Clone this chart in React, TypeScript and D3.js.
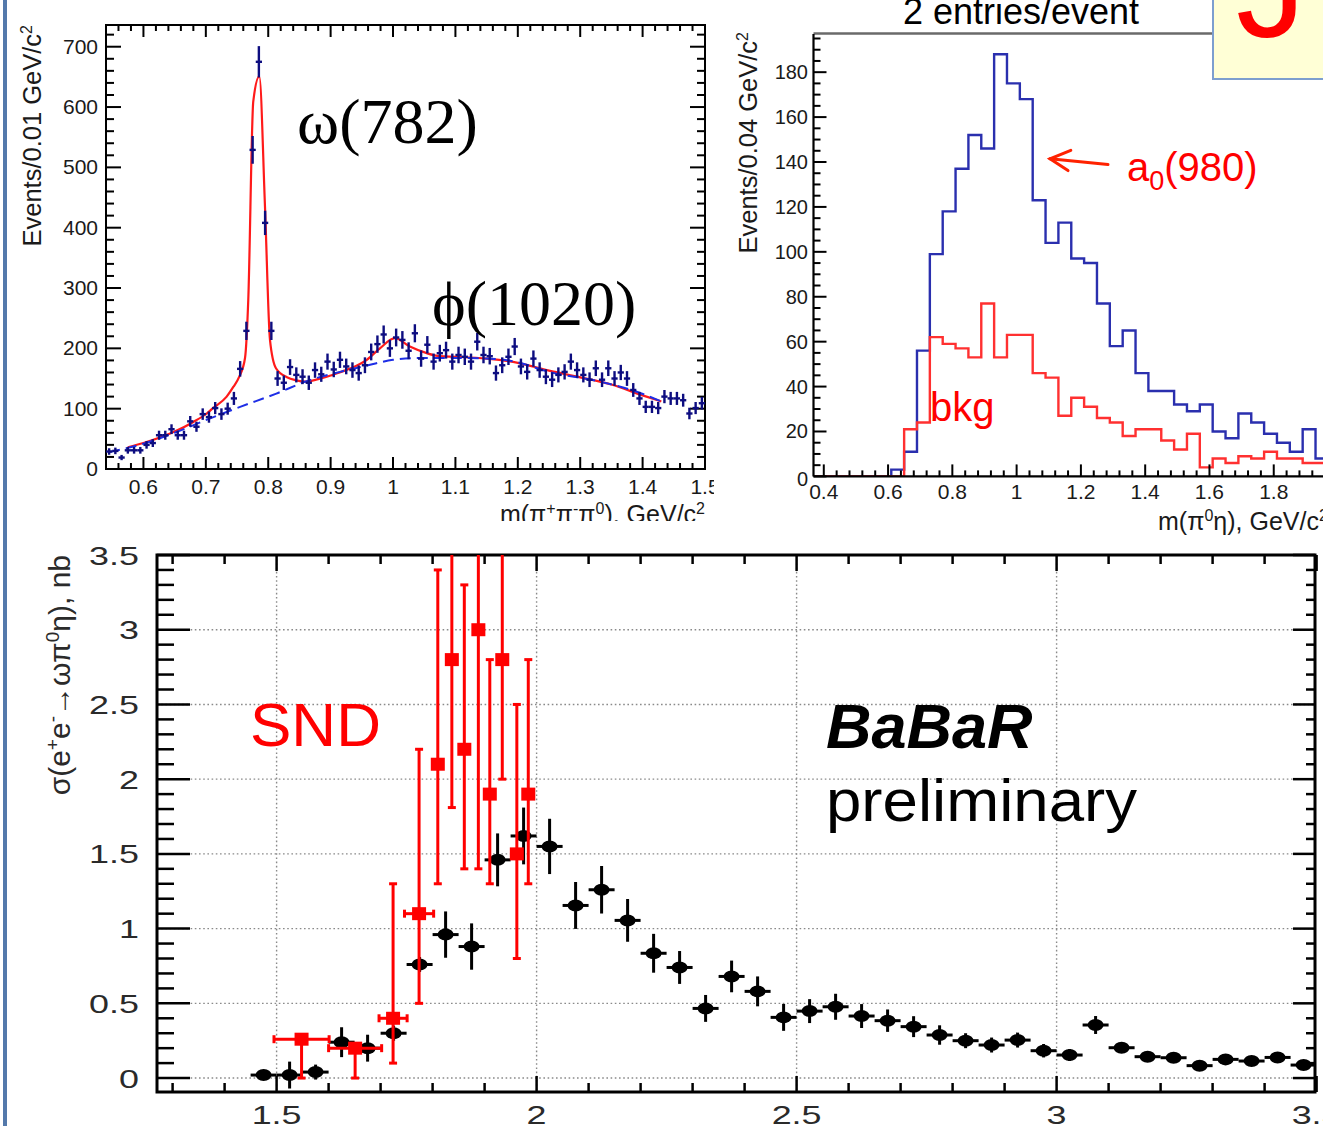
import React from "react";
import * as d3 from "d3";

const SANS = "'Liberation Sans', Arial, Helvetica, sans-serif";
const SERIF = "'Liberation Serif', 'Times New Roman', serif";

// ---------------- Panel A : m(pi+ pi- pi0) ----------------
const m3piFirstBin = 0.545;
const m3piBinWidth = 0.01;
const m3piCounts = [
  29, 30, 19, 31, 31, 31, 40, 43, 56, 56,
  66, 56, 56, 79, 70, 91, 86, 101, 91, 100,
  117, 166, 229, 529, 675, 408, 229, 150, 143, 169,
  156, 153, 143, 164, 157, 178, 165, 181, 170, 164,
  159, 172, 194, 207, 223, 200, 218, 214, 196, 225,
  183, 206, 178, 192, 197, 178, 189, 186, 178, 211,
  189, 187, 159, 172, 186, 203, 170, 161, 183, 164,
  153, 148, 156, 161, 178, 164, 156, 148, 167, 148,
  167, 150, 160, 150, 131, 117, 103, 103, 101, 120,
  117, 117, 114, 92, 101, 109,
];
const fitTotalX = [0.575, 0.6, 0.65, 0.68, 0.7014, 0.7115, 0.7334, 0.744, 0.7536, 0.7628, 0.768, 0.776, 0.7857, 0.7948, 0.8028, 0.8124, 0.83, 0.845, 0.86, 0.88, 0.9, 0.93, 0.958, 0.979, 1.003, 1.027, 1.054, 1.075, 1.1, 1.15, 1.2, 1.25, 1.3, 1.35, 1.4, 1.43];
const fitTotalY = [36, 43, 62, 78, 92, 101, 120, 136, 153, 184, 280, 609, 651, 435, 214, 167, 152, 147, 145, 149, 155, 166, 181, 200, 217, 203, 192, 187, 186, 183, 176, 163, 152, 140, 122, 112];
const fitBkgX = [0.545, 0.6, 0.65, 0.707, 0.755, 0.813, 0.86, 0.915, 0.96, 1.0, 1.043, 1.1, 1.17, 1.195, 1.25, 1.331, 1.385, 1.43];
const fitBkgY = [28, 42, 60, 84, 103, 125, 145, 161, 172, 181, 184, 184, 182, 178, 161, 145, 130, 112];
const m3piTicks = [0.6, 0.7, 0.8, 0.9, 1, 1.1, 1.2, 1.3, 1.4, 1.5];
const m3piTickLabels = ["0.6", "0.7", "0.8", "0.9", "1", "1.1", "1.2", "1.3", "1.4", "1.5"];
const eventsATicks = [0, 100, 200, 300, 400, 500, 600, 700];

// ---------------- Panel B : m(pi0 eta) ----------------
const pi0etaFirstEdge = 0.37;
const pi0etaBinWidth = 0.04;
const pi0etaSignal = [0, 0, 0, 0, 0, 0, 3, 11, 56, 99, 118, 137, 152, 146, 188, 175, 168, 123, 104, 113, 97, 95, 77, 58, 65, 46, 38, 38, 32, 29, 32, 20, 17, 28, 24, 19, 15, 11, 21, 8, 8];
const pi0etaBkg = [0, 0, 0, 0, 0, 0, 0, 21, 24, 62, 59, 57, 53, 77, 53, 63, 63, 46, 44, 27, 35, 31, 26, 24, 18, 21, 21, 16, 12, 19, 4, 8, 6, 9, 8, 11, 8, 8, 6, 6, 6];
const pi0etaTicks = [0.4, 0.6, 0.8, 1, 1.2, 1.4, 1.6, 1.8];
const pi0etaTickLabels = ["0.4", "0.6", "0.8", "1", "1.2", "1.4", "1.6", "1.8"];
const eventsBTicks = [0, 20, 40, 60, 80, 100, 120, 140, 160, 180];

// ---------------- Panel C : cross section ----------------
const babarE = [1.475, 1.525, 1.575, 1.625, 1.675, 1.725, 1.775, 1.825, 1.875, 1.925, 1.975, 2.025, 2.075, 2.125, 2.175, 2.225, 2.275, 2.325, 2.375, 2.425, 2.475, 2.525, 2.575, 2.625, 2.675, 2.725, 2.775, 2.825, 2.875, 2.925, 2.975, 3.025, 3.075, 3.125, 3.175, 3.225, 3.275, 3.325, 3.375, 3.425, 3.475];
const babarSigma = [0.02, 0.02, 0.04, 0.24, 0.2, 0.3, 0.76, 0.96, 0.88, 1.46, 1.62, 1.55, 1.155, 1.26, 1.055, 0.835, 0.74, 0.466, 0.68, 0.58, 0.406, 0.448, 0.477, 0.415, 0.384, 0.344, 0.288, 0.25, 0.221, 0.254, 0.183, 0.154, 0.355, 0.203, 0.143, 0.136, 0.083, 0.125, 0.114, 0.138, 0.087];
const babarErr = [0.03, 0.09, 0.05, 0.1, 0.09, 0.05, 0.05, 0.155, 0.155, 0.177, 0.19, 0.185, 0.157, 0.159, 0.143, 0.13, 0.11, 0.09, 0.106, 0.1, 0.09, 0.08, 0.087, 0.08, 0.075, 0.07, 0.065, 0.05, 0.05, 0.05, 0.045, 0.04, 0.06, 0.035, 0.03, 0.03, 0.03, 0.03, 0.03, 0.03, 0.03];
const babarHalfWidth = 0.025;

const sndE = [1.548, 1.651, 1.724, 1.774, 1.81, 1.837, 1.861, 1.888, 1.91, 1.934, 1.962, 1.984];
const sndSigma = [0.26, 0.2, 0.4, 1.1, 2.1, 2.8, 2.2, 3.0, 1.9, 2.8, 1.5, 1.9];
const sndErrLow = [0.26, 0.2, 0.3, 0.6, 0.8, 0.99, 0.8, 1.6, 0.6, 0.8, 0.7, 0.6];
const sndErrHigh = [0, 0, 0.9, 1.1, 1.3, 1.5, 1.1, 1.5, 0.9, 1.5, 1.0, 0.9];
const sndHalfWidth = [0.053, 0.051, 0.027, 0.028, 0, 0, 0, 0, 0, 0, 0, 0];

const sigmaTicks = [0, 0.5, 1, 1.5, 2, 2.5, 3, 3.5];
const sigmaTickLabels = ["0", "0.5", "1", "1.5", "2", "2.5", "3", "3.5"];
const energyTicks = [1.5, 2, 2.5, 3, 3.5];
const energyTickLabels = ["1.5", "2", "2.5", "3", "3.5"];

function rng(a: number, b: number, s: number) {
  const out: number[] = [];
  const n = Math.round((b - a) / s);
  for (let i = 0; i <= n; i++) out.push(+(a + i * s).toFixed(6));
  return out;
}

export default function App() {
  // ---------- Panel A scales ----------
  const xA = d3.scaleLinear().domain([0.54, 1.5]).range([106, 705]);
  const yA = d3.scaleLinear().domain([0, 736]).range([469, 25]);
  const ptsA = m3piCounts.map((c, i) => ({ x: m3piFirstBin + i * m3piBinWidth, y: c, e: Math.sqrt(c) }));
  const lineTot = d3.line<[number, number]>().x(d => xA(d[0])).y(d => yA(d[1])).curve(d3.curveMonotoneX);
  const lineBkg = d3.line<[number, number]>().x(d => xA(d[0])).y(d => yA(d[1])).curve(d3.curveMonotoneX);
  const totPath = lineTot(fitTotalX.map((x, i) => [x, fitTotalY[i]] as [number, number])) || "";
  const bkgPath = lineBkg(fitBkgX.map((x, i) => [x, fitBkgY[i]] as [number, number])) || "";
  const minorXA = rng(0.54, 1.5, 0.02);
  const minorYA = rng(0, 720, 20);

  // ---------- Panel B scales ----------
  const xB = d3.scaleLinear().domain([0.368, 2.04]).range([813.5, 813.5 + (2.04 - 0.368) * 321.4]);
  const yB = d3.scaleLinear().domain([0, 197]).range([476.4, 34]);
  const stepLine = d3.line<[number, number]>().x(d => xB(d[0])).y(d => yB(d[1])).curve(d3.curveStepAfter);
  const histPts = (arr: number[]) => {
    const p: [number, number][] = arr.map((v, i) => [pi0etaFirstEdge + i * pi0etaBinWidth, v]);
    p.push([pi0etaFirstEdge + arr.length * pi0etaBinWidth, arr[arr.length - 1]]);
    return p;
  };
  const sigPath = stepLine(histPts(pi0etaSignal)) || "";
  const bkgHPath = stepLine(histPts(pi0etaBkg)) || "";
  const minorXB = rng(0.4, 2.0, 0.04);
  const minorYB = rng(0, 195, 5);

  // ---------- Panel C scales ----------
  const xC = d3.scaleLinear().domain([1.27, 3.5]).range([157, 1316.6]);
  const yC = d3.scaleLinear().domain([-0.1, 3.5]).range([1093, 555]);
  const minorXC = rng(1.3, 3.5, 0.1);
  const minorYC = rng(0, 3.5, 0.1);

  const tickColA = "#1a1a1a";

  return (
    <svg width={1323} height={1126} viewBox="0 0 1323 1126" style={{ position: "absolute", left: 0, top: 0, background: "#fff" }}>
      <defs>
        <clipPath id="clipA"><rect x={0} y={0} width={714} height={521} /></clipPath>
        <clipPath id="clipAplot"><rect x={106} y={25} width={599} height={444} /></clipPath>
        <clipPath id="clipBplot"><rect x={813.5} y={34} width={520} height={442.4} /></clipPath>
        <clipPath id="clipBox"><rect x={1213} y={0} width={110} height={79} /></clipPath>
        <clipPath id="clipC"><rect x={157} y={555} width={1158} height={537} /></clipPath>
      </defs>
      <rect x={0} y={0} width={1323} height={1126} fill="#ffffff" />

      {/* ================= Panel A ================= */}
      <g clipPath="url(#clipA)">
        <rect x={106} y={25} width={599} height={444} fill="none" stroke="#000" strokeWidth={2} />
        {minorXA.map((t, i) => {
          const major = m3piTicks.some(m => Math.abs(m - t) < 1e-6);
          const L = major ? 12 : 6;
          return (
            <g key={"axa" + i} stroke="#000" strokeWidth={2}>
              <line x1={xA(t)} x2={xA(t)} y1={469} y2={469 - L} />
              <line x1={xA(t)} x2={xA(t)} y1={25} y2={25 + L} />
            </g>
          );
        })}
        {minorYA.map((t, i) => {
          const major = t % 100 === 0;
          const L = major ? 15 : 8;
          return (
            <g key={"aya" + i} stroke="#000" strokeWidth={2}>
              <line x1={106} x2={106 + L} y1={yA(t)} y2={yA(t)} />
              <line x1={705} x2={705 - L} y1={yA(t)} y2={yA(t)} />
            </g>
          );
        })}
        {m3piTicks.map((t, i) => (
          <text key={"axl" + i} x={xA(t)} y={494} textAnchor="middle" fontFamily={SANS} fontSize={21} fill={tickColA}>{m3piTickLabels[i]}</text>
        ))}
        {eventsATicks.map((t, i) => (
          <text key={"ayl" + i} x={98} y={yA(t) + 7} textAnchor="end" fontFamily={SANS} fontSize={21} fill={tickColA}>{String(t)}</text>
        ))}
        <text transform="translate(41,25) rotate(-90)" textAnchor="end" fontFamily={SANS} fontSize={25.5} fill={tickColA}>
          Events/0.01 GeV/c<tspan dy={-9} fontSize={16}>2</tspan>
        </text>
        <text x={705} y={523} textAnchor="end" fontFamily={SANS} fontSize={25} fill={tickColA}>
          m(π<tspan dy={-9} fontSize={16}>+</tspan><tspan dy={9}>π</tspan><tspan dy={-9} fontSize={16}>-</tspan><tspan dy={9}>π</tspan><tspan dy={-9} fontSize={16}>0</tspan><tspan dy={9}>), GeV/c</tspan><tspan dy={-9} fontSize={16}>2</tspan>
        </text>
        <g clipPath="url(#clipAplot)">
          <path d={totPath} fill="none" stroke="#ff1a1a" strokeWidth={2.2} />
          <path d={bkgPath} fill="none" stroke="#1e2ee6" strokeWidth={2} strokeDasharray="11,6" />
          {ptsA.map((p, i) => (
            <g key={"pa" + i} stroke="#0d0d80" strokeWidth={2.4}>
              <line x1={xA(p.x)} x2={xA(p.x)} y1={yA(p.y - p.e)} y2={yA(p.y + p.e)} />
              <line x1={xA(p.x - m3piBinWidth / 2)} x2={xA(p.x + m3piBinWidth / 2)} y1={yA(p.y)} y2={yA(p.y)} />
            </g>
          ))}
        </g>
        <text x={297} y={143} fontFamily={SERIF} fontSize={64} fill="#000">ω(782)</text>
        <text x={432} y={325} fontFamily={SERIF} fontSize={64} fill="#000">ϕ(1020)</text>
      </g>

      {/* ================= Panel B ================= */}
      <g>
        <text x={1021} y={24} textAnchor="middle" fontFamily={SANS} fontSize={36} fill="#000">2 entries/event</text>
        <line x1={813.5} x2={1213} y1={33.5} y2={33.5} stroke="#6a6a6a" strokeWidth={2.5} />
        <g clipPath="url(#clipBplot)">
          <path d={sigPath} fill="none" stroke="#2a2fae" strokeWidth={2.4} />
          <path d={bkgHPath} fill="none" stroke="#ff3030" strokeWidth={2.4} />
        </g>
        <line x1={813.5} x2={813.5} y1={34} y2={476.4} stroke="#000" strokeWidth={2.2} />
        <line x1={813.5} x2={1323} y1={476.4} y2={476.4} stroke="#000" strokeWidth={2.2} />
        {minorXB.map((t, i) => {
          const major = pi0etaTicks.some(m => Math.abs(m - t) < 1e-6);
          const L = major ? 12 : 6;
          return <line key={"bx" + i} x1={xB(t)} x2={xB(t)} y1={476.4} y2={476.4 - L} stroke="#000" strokeWidth={2} />;
        })}
        {minorYB.map((t, i) => {
          const L = t % 20 === 0 ? 13 : 7;
          return <line key={"by" + i} x1={813.5} x2={813.5 + L} y1={yB(t)} y2={yB(t)} stroke="#000" strokeWidth={2} />;
        })}
        {pi0etaTicks.map((t, i) => (
          <text key={"bxl" + i} x={xB(t)} y={499} textAnchor="middle" fontFamily={SANS} fontSize={21} fill={tickColA}>{pi0etaTickLabels[i]}</text>
        ))}
        {eventsBTicks.map((t, i) => (
          <text key={"byl" + i} x={808} y={yB(t) + 7 + (t === 0 ? 3 : 0)} textAnchor="end" fontFamily={SANS} fontSize={20} fill={tickColA}>{String(t)}</text>
        ))}
        <text transform="translate(757,32) rotate(-90)" textAnchor="end" fontFamily={SANS} fontSize={25.5} fill={tickColA}>
          Events/0.04 GeV/c<tspan dy={-9} fontSize={16}>2</tspan>
        </text>
        <text x={1158} y={530} fontFamily={SANS} fontSize={25} fill={tickColA}>
          m(π<tspan dy={-9} fontSize={16}>0</tspan><tspan dy={9}>η), GeV/c</tspan><tspan dy={-9} fontSize={16}>2</tspan>
        </text>
        <text x={930} y={421} fontFamily={SANS} fontSize={40} fill="#ff0000">bkg</text>
        <g stroke="#ff2200" strokeWidth={3} fill="none" strokeLinecap="round">
          <line x1={1108} y1={164.5} x2={1050} y2={158.8} />
          <polyline points="1070.8,150.3 1050,158.8 1068,170.6" />
        </g>
        <text x={1127} y={181} fontFamily={SANS} fontSize={40} fill="#ff0000">
          a<tspan dy={9} fontSize={27}>0</tspan><tspan dy={-9}>(980)</tspan>
        </text>
        <rect x={1213} y={-5} width={120} height={84} fill="#ffffd6" stroke="#7d9fcf" strokeWidth={2} />
        <g clipPath="url(#clipBox)">
          <text x={1236} y={37} fontFamily={SANS} fontSize={140} fill="#ff0000">J</text>
        </g>
      </g>

      {/* ================= Panel C ================= */}
      <g>
        {sigmaTicks.slice(0, 7).map((t, i) => (
          <line key={"gy" + i} x1={157} x2={1315} y1={yC(t)} y2={yC(t)} stroke="#8a8a8a" strokeWidth={1.4} strokeDasharray="1.6,2.6" />
        ))}
        {energyTicks.slice(0, 4).map((t, i) => (
          <line key={"gx" + i} x1={xC(t)} x2={xC(t)} y1={555} y2={1092} stroke="#8a8a8a" strokeWidth={1.4} strokeDasharray="1.6,2.6" />
        ))}
        <rect x={157} y={555} width={1158} height={537} fill="none" stroke="#000" strokeWidth={3} />
        {minorXC.map((t, i) => {
          const major = energyTicks.some(m => Math.abs(m - t) < 1e-6);
          const L = major ? 16 : 9;
          return (
            <g key={"cx" + i} stroke="#000" strokeWidth={2.5}>
              <line x1={xC(t)} x2={xC(t)} y1={1092} y2={1092 - L} />
              <line x1={xC(t)} x2={xC(t)} y1={555} y2={555 + L} />
            </g>
          );
        })}
        {minorYC.map((t, i) => {
          const major = sigmaTicks.some(m => Math.abs(m - t) < 1e-6);
          return (
            <g key={"cy" + i} stroke="#000" strokeWidth={2.5}>
              <line x1={157} x2={157 + (major ? 33 : 17)} y1={yC(t)} y2={yC(t)} />
              <line x1={1315} x2={1315 - (major ? 22 : 9)} y1={yC(t)} y2={yC(t)} />
            </g>
          );
        })}
        {sigmaTicks.map((t, i) => (
          <text key={"cyl" + i} transform={`translate(139,${yC(t) + 9.5}) scale(1.38,1)`} textAnchor="end" fontFamily={SANS} fontSize={26} fill="#2a2a2a">{sigmaTickLabels[i]}</text>
        ))}
        {energyTicks.map((t, i) => (
          <text key={"cxl" + i} transform={`translate(${xC(t)},1124) scale(1.38,1)`} textAnchor="middle" fontFamily={SANS} fontSize={26} fill="#2a2a2a">{energyTickLabels[i]}</text>
        ))}
        <text transform="translate(70,555) rotate(-90)" textAnchor="end" fontFamily={SANS} fontSize={30} fill="#2a2a2a">
          σ(e<tspan dy={-11} fontSize={19}>+</tspan><tspan dy={11}>e</tspan><tspan dy={-11} fontSize={19}>-</tspan><tspan dy={11}>→ωπ</tspan><tspan dy={-11} fontSize={19}>0</tspan><tspan dy={11}>η), nb</tspan>
        </text>

        <g clipPath="url(#clipC)">
          {babarE.map((e, i) => (
            <g key={"bb" + i}>
              <g stroke="#000" strokeWidth={3}>
                <line x1={xC(e)} x2={xC(e)} y1={yC(babarSigma[i] - babarErr[i])} y2={yC(babarSigma[i] + babarErr[i])} />
                <line x1={xC(e - babarHalfWidth)} x2={xC(e + babarHalfWidth)} y1={yC(babarSigma[i])} y2={yC(babarSigma[i])} />
              </g>
              <ellipse cx={xC(e)} cy={yC(babarSigma[i])} rx={8} ry={6} fill="#000" />
            </g>
          ))}
          {sndE.map((e, i) => {
            const cx = xC(e);
            const lo = yC(sndSigma[i] - sndErrLow[i]);
            const hi = yC(sndSigma[i] + sndErrHigh[i]);
            const cy = yC(sndSigma[i]);
            return (
              <g key={"snd" + i} stroke="#ff0000" strokeWidth={3}>
                <line x1={cx} x2={cx} y1={lo} y2={hi} />
                {sndErrLow[i] > 0 && <line x1={cx - 4} x2={cx + 4} y1={lo} y2={lo} />}
                {sndErrHigh[i] > 0 && <line x1={cx - 4} x2={cx + 4} y1={hi} y2={hi} />}
                {sndHalfWidth[i] > 0 && <line x1={xC(e - sndHalfWidth[i])} x2={xC(e + sndHalfWidth[i])} y1={cy} y2={cy} />}
                {sndHalfWidth[i] > 0 && <line x1={xC(e - sndHalfWidth[i])} x2={xC(e - sndHalfWidth[i])} y1={cy - 4} y2={cy + 4} />}
                {sndHalfWidth[i] > 0 && <line x1={xC(e + sndHalfWidth[i])} x2={xC(e + sndHalfWidth[i])} y1={cy - 4} y2={cy + 4} />}
                <rect x={cx - 7} y={cy - 6.5} width={14} height={13} fill="#ff0000" stroke="none" />
              </g>
            );
          })}
        </g>

        <text x={250} y={746} fontFamily={SANS} fontSize={62} fill="#ff0000">SND</text>
        <text x={826} y={748} fontFamily={SANS} fontSize={63} fontWeight="bold" fontStyle="italic" fill="#000">BaBaR</text>
        <text x={826} y={821} fontFamily={SANS} fontSize={60} fill="#000" textLength={311} lengthAdjust="spacingAndGlyphs">preliminary</text>
      </g>

      <rect x={3} y={0} width={4} height={1126} fill="#5479ab" />
    </svg>
  );
}
